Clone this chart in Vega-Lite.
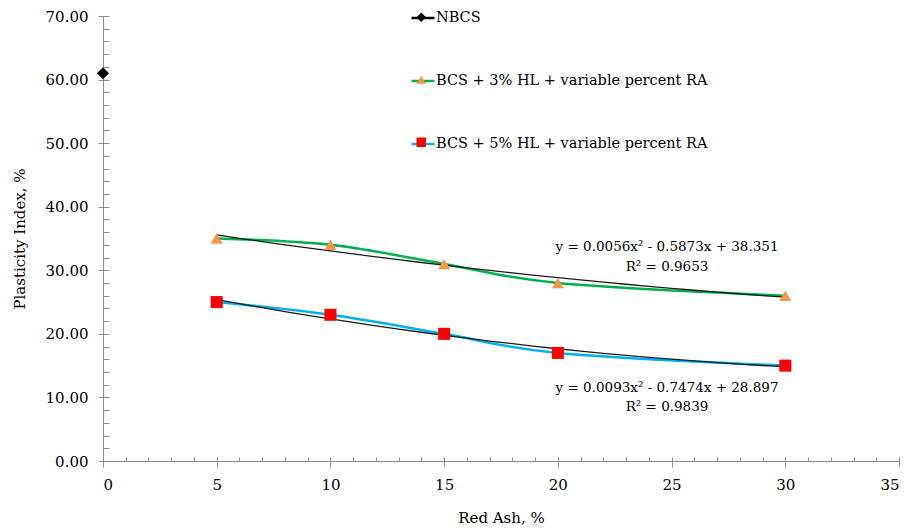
{
  "$schema": "https://vega.github.io/schema/vega-lite/v6.json",
  "width": 796,
  "height": 445,
  "autosize": {"type": "none"},
  "padding": {"left": 103, "top": 16, "right": 6, "bottom": 68},
  "background": "white",
  "config": {
    "view": {"stroke": null},
    "font": "DejaVu Serif",
    "axis": {"grid": false, "labelFont": "DejaVu Serif", "titleFont": "DejaVu Serif", "labelFontSize": 15, "titleFontSize": 15, "titleFontWeight": "normal", "labelColor": "#000", "titleColor": "#000", "domainColor": "#8c8c8c", "tickColor": "#8c8c8c"},
    "legend": {"labelFont": "DejaVu Serif", "labelFontSize": 14.5, "labelColor": "#000", "padding": 0, "labelLimit": 500}
  },
  "datasets": {
    "pts": [
      {"series": "NBCS", "x": 0, "y": 61},
      {"series": "BCS + 3% HL + variable percent RA", "x": 5, "y": 35},
      {"series": "BCS + 3% HL + variable percent RA", "x": 10, "y": 34},
      {"series": "BCS + 3% HL + variable percent RA", "x": 15, "y": 31},
      {"series": "BCS + 3% HL + variable percent RA", "x": 20, "y": 28},
      {"series": "BCS + 3% HL + variable percent RA", "x": 30, "y": 26},
      {"series": "BCS + 5% HL + variable percent RA", "x": 5, "y": 25},
      {"series": "BCS + 5% HL + variable percent RA", "x": 10, "y": 23},
      {"series": "BCS + 5% HL + variable percent RA", "x": 15, "y": 20},
      {"series": "BCS + 5% HL + variable percent RA", "x": 20, "y": 17},
      {"series": "BCS + 5% HL + variable percent RA", "x": 30, "y": 15}
    ],
    "notes": [
      {"label": "y = 0.0056x² - 0.5873x + 38.351", "x": 24.8, "y": 33.6},
      {"label": "R² = 0.9653", "x": 24.8, "y": 30.5},
      {"label": "y = 0.0093x² - 0.7474x + 28.897", "x": 24.8, "y": 11.5},
      {"label": "R² = 0.9839", "x": 24.8, "y": 8.5}
    ]
  },
  "resolve": {"axis": {"x": "independent", "y": "independent"}},
  "layer": [
    {
      "data": {"name": "pts"},
      "mark": {"type": "line", "interpolate": "cardinal", "strokeWidth": 2.5},
      "encoding": {
        "x": {"field": "x", "type": "quantitative", "scale": {"domain": [0, 35], "nice": false},
          "axis": {"title": "Red Ash, %", "values": [0, 5, 10, 15, 20, 25, 30, 35], "tickSize": 6, "labelPadding": 10, "titlePadding": 18}},
        "y": {"field": "y", "type": "quantitative", "scale": {"domain": [0, 70], "nice": false},
          "axis": {"title": "Plasticity Index, %", "values": [0, 10, 20, 30, 40, 50, 60, 70], "format": ".2f", "tickSize": 5, "labelPadding": 10, "titlePadding": 18}},
        "stroke": {"field": "series", "type": "nominal",
          "sort": ["NBCS", "BCS + 3% HL + variable percent RA", "BCS + 5% HL + variable percent RA"],
          "scale": {"range": ["#000000", "#00b050", "#00b0f0"]},
          "legend": {"title": null, "orient": "none", "legendX": 307, "legendY": -11, "symbolType": "stroke", "symbolSize": 529, "symbolStrokeWidth": 2.5, "rowPadding": 43, "labelOffset": 0}}
      }
    },
    {
      "data": {"name": "pts"},
      "transform": [
        {"filter": "datum.series != 'NBCS'"},
        {"regression": "y", "on": "x", "groupby": ["series"], "method": "poly", "order": 2, "extent": [5, 30]}
      ],
      "mark": {"type": "line", "color": "#1a1a1a", "strokeWidth": 1.3},
      "encoding": {
        "x": {"field": "x", "type": "quantitative", "axis": null},
        "y": {"field": "y", "type": "quantitative", "axis": null},
        "detail": {"field": "series", "type": "nominal"}
      }
    },
    {
      "data": {"name": "pts"},
      "mark": {"type": "point", "filled": true, "opacity": 1, "size": 145},
      "encoding": {
        "x": {"field": "x", "type": "quantitative", "axis": null},
        "y": {"field": "y", "type": "quantitative", "axis": null},
        "fill": {"field": "series", "type": "nominal",
          "scale": {"domain": ["NBCS", "BCS + 3% HL + variable percent RA", "BCS + 5% HL + variable percent RA"], "range": ["#000000", "#f79646", "#ff0000"]},
          "legend": {"title": null, "orient": "none", "legendX": 311, "legendY": -6, "symbolSize": 90, "rowPadding": 46.5, "labelOffset": 0, "labelExpr": "''"}},
        "shape": {"field": "series", "type": "nominal",
          "scale": {"domain": ["NBCS", "BCS + 3% HL + variable percent RA", "BCS + 5% HL + variable percent RA"], "range": ["diamond", "triangle-up", "square"]},
          "legend": {"title": null, "orient": "none", "legendX": 311, "legendY": -6, "symbolSize": 90, "rowPadding": 46.5, "labelOffset": 0, "labelExpr": "''"}}
      }
    },
    {
      "data": {"name": "notes"},
      "mark": {"type": "text", "font": "DejaVu Serif", "fontSize": 13.5, "align": "center", "baseline": "middle", "color": "#000"},
      "encoding": {
        "x": {"field": "x", "type": "quantitative", "axis": null},
        "y": {"field": "y", "type": "quantitative", "axis": null},
        "text": {"field": "label", "type": "nominal"}
      }
    },
    {
      "data": {"name": "pts"},
      "mark": {"type": "point", "opacity": 0},
      "encoding": {
        "x": {"field": "x", "type": "quantitative",
          "axis": {"orient": "bottom", "title": null, "labels": false, "domain": false, "values": [0,1,2,3,4,5,6,7,8,9,10,11,12,13,14,15,16,17,18,19,20,21,22,23,24,25,26,27,28,29,30,31,32,33,34,35], "tickSize": -4}},
        "y": {"field": "y", "type": "quantitative",
          "axis": {"orient": "left", "title": null, "labels": false, "domain": false, "values": [0,2,4,6,8,10,12,14,16,18,20,22,24,26,28,30,32,34,36,38,40,42,44,46,48,50,52,54,56,58,60,62,64,66,68,70], "tickSize": -6}}
      }
    }
  ]
}
